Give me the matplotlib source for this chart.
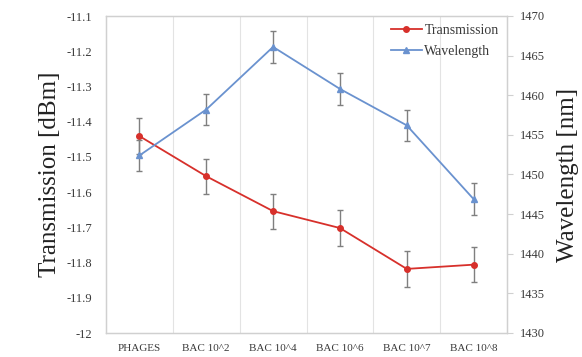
import matplotlib
matplotlib.use("Agg")
import matplotlib.pyplot as plt
from matplotlib.lines import Line2D
import numpy as np

categories = ["PHAGES", "BAC 10^2", "BAC 10^4", "BAC 10^6", "BAC 10^7", "BAC 10^8"]
transmission = [-11.441, -11.555, -11.654, -11.702, -11.818, -11.806]
transmission_err = [0.05, 0.05, 0.05, 0.05, 0.052, 0.05]
wavelength = [1452.4, 1458.2, 1466.1, 1460.8, 1456.2, 1446.9]
wavelength_err = [2.0, 2.0, 2.0, 2.0, 2.0, 2.0]

plt.rcParams["font.family"] = ["Liberation Serif", "DejaVu Serif"]

fig = plt.figure(figsize=(5.82, 3.57), dpi=100)
ax = fig.add_axes([106 / 582, 1 - 333 / 357, 401 / 582, 317 / 357])
ax2 = ax.twinx()

x = np.arange(len(categories))
red = "#d7302b"
blue = "#6a92cf"
errc = "#7f7f7f"
edge = "#d0d0d0"
txt = "#3a3a3a"

ax.errorbar(x, transmission, yerr=transmission_err, color=red, marker="o",
            markersize=4, lw=1.3, ecolor=errc, elinewidth=1, capsize=2.5,
            capthick=1, zorder=3)
ax2.errorbar(x, wavelength, yerr=wavelength_err, color=blue, marker="^",
             markersize=4, lw=1.3, ecolor=errc, elinewidth=1, capsize=2.5,
             capthick=1, zorder=3)

ax.set_xlim(-0.5, len(categories) - 0.5)
ax.set_ylim(-12, -11.1)
ax.set_yticks(np.arange(-12, -11.05, 0.1))
ax.set_yticklabels(["-12"] + [f"{v:.1f}" for v in np.arange(-11.9, -11.05, 0.1)])
ax2.set_ylim(1430, 1470)
ax2.set_yticks(np.arange(1430, 1471, 5))

ax.set_xticks(x)
ax.set_xticklabels(categories, fontsize=8, color=txt)
for b in np.arange(0.5, len(categories) - 0.5, 1):
    ax.axvline(b, color="#e3e3e3", lw=0.8, zorder=0)

for a in (ax, ax2):
    for s in a.spines.values():
        s.set_color(edge)
        s.set_linewidth(0.9)
    a.tick_params(axis="y", labelsize=9, colors=txt, length=0, pad=10)
ax2.tick_params(axis="y", length=4, color=edge, pad=5)
ax.tick_params(axis="x", length=0, pad=8)

ax.set_ylabel("Transmission [dBm]", fontsize=18, labelpad=4, color="#222222")
ax2.set_ylabel("Wavelength [nm]", fontsize=18, labelpad=9, rotation=90,
               color="#222222")

handles = [
    Line2D([], [], color=red, marker="o", markersize=4, lw=1.3),
    Line2D([], [], color=blue, marker="^", markersize=4, lw=1.3),
]
ax2.legend(handles, ["Transmission", "Wavelength"], loc="upper right",
           frameon=False, fontsize=10, handlelength=2.2, borderaxespad=0.2,
           labelspacing=0.55, handletextpad=0.2, labelcolor=txt)

fig.savefig("out.png", dpi=100)
